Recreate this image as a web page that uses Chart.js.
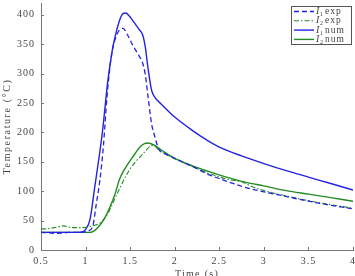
<!DOCTYPE html>
<html>
<head>
<meta charset="utf-8">
<script src="https://cdn.jsdelivr.net/npm/chart.js@4/dist/chart.umd.min.js"></script>
<style>
  html, body { margin: 0; padding: 0; overflow: hidden; background: #fff; }
  body { width: 355px; height: 276px; position: relative; }
  #wrap { position: absolute; left: 0; top: -9px; width: 361px; height: 295px; }
</style>
</head>
<body>
<div id="wrap"><canvas id="tempChart"></canvas></div>
<script>
const timeI1Exp = [0.5, 0.6, 0.65, 0.75, 0.85, 0.95, 1.02, 1.08, 1.12, 1.16, 1.2, 1.24, 1.29, 1.35, 1.42, 1.47, 1.53, 1.6, 1.64, 1.67, 1.7, 1.74, 1.78, 1.82, 1.9, 2.0, 2.2, 2.37, 2.6, 2.8, 3.0, 3.25, 3.5, 3.75, 4.0];
const tempI1Exp = [30, 29, 28, 29, 30, 30, 32, 40, 78, 118, 177, 260, 330, 366, 377, 366, 348, 330, 318, 298, 262, 215, 191, 172, 163, 156, 142, 129, 116, 106, 99, 91, 83, 76, 70];

const timeI2Exp = [0.5, 0.55, 0.65, 0.75, 0.85, 0.95, 1.05, 1.12, 1.18, 1.25, 1.3, 1.38, 1.45, 1.5, 1.56, 1.61, 1.67, 1.72, 1.76, 1.82, 1.9, 2.0, 2.2, 2.37, 2.6, 2.75, 2.85, 3.0, 3.25, 3.5, 3.75, 4.0];
const tempI2Exp = [36, 36, 38, 41, 38, 38, 40, 43, 48, 62, 78, 104, 125, 138, 150, 158, 168, 176, 178, 170, 163, 155, 142, 131, 120, 116, 109, 101, 92, 84, 77, 71];

const timeI1Num = [0.5, 0.7, 0.9, 0.97, 1.0, 1.05, 1.1, 1.16, 1.19, 1.25, 1.3, 1.33, 1.38, 1.42, 1.45, 1.49, 1.53, 1.6, 1.64, 1.67, 1.7, 1.74, 1.78, 1.85, 2.0, 2.2, 2.37, 2.5, 2.75, 3.0, 3.25, 3.5, 3.75, 4.0];
const tempI1Num = [30, 30, 30, 31, 35, 52, 104, 167, 202, 288, 340, 362, 390, 402, 403, 398, 390, 375, 366, 345, 310, 272, 259, 248, 226, 203, 186, 175, 160, 147, 135, 124, 113, 102];

const timeI2Num = [0.5, 0.8, 1.0, 1.05, 1.1, 1.16, 1.22, 1.27, 1.33, 1.38, 1.44, 1.5, 1.56, 1.61, 1.66, 1.7, 1.76, 1.83, 1.9, 2.0, 2.2, 2.37, 2.6, 2.8, 3.0, 3.25, 3.5, 3.75, 4.0];
const tempI2Num = [30, 30, 30, 30, 33, 42, 56, 72, 95, 120, 138, 152, 165, 175, 181, 182, 179, 172, 165, 156, 143, 134, 123, 115, 109, 101, 95, 89, 83];

const xTicks = [0.5, 1, 1.5, 2, 2.5, 3, 3.5, 4];
const yTicks = [0, 50, 100, 150, 200, 250, 300, 350, 400];

const blue = 'rgb(35, 35, 225)';
const green = 'rgb(35, 140, 35)';
const serif = "'Liberation Serif', serif";
const textColor = '#444';
const axisColor = '#777';

function pts(xs, ys) {
    return xs.map((x, i) => ({x: x, y: ys[i]}));
}

const seriesList = [
    {label: 'exp', idx: '1', color: blue, dash: [5, 3], width: 1.3, data: pts(timeI1Exp, tempI1Exp)},
    {label: 'exp', idx: '2', color: green, dash: [5, 2, 1.5, 2], width: 1.1, data: pts(timeI2Exp, tempI2Exp)},
    {label: 'num', idx: '1', color: blue, dash: [], width: 1.4, data: pts(timeI1Num, tempI1Num)},
    {label: 'num', idx: '2', color: green, dash: [], width: 1.4, data: pts(timeI2Num, tempI2Num)}
];

// wide letter spacing like the LaTeX figure, set before layout so widths are measured with it
const spacing = {
    id: 'spacing',
    beforeLayout(chart) { chart.ctx.letterSpacing = '1px'; },
    beforeDraw(chart) { chart.ctx.letterSpacing = '1px'; }
};

// inward tick marks and the two axis titles
const axisExtras = {
    id: 'axisExtras',
    afterDraw(chart) {
        const ctx = chart.ctx;
        const area = chart.chartArea;
        const xs = chart.scales.x, ys = chart.scales.y;
        ctx.save();
        ctx.strokeStyle = axisColor;
        ctx.lineWidth = 1;
        ctx.beginPath();
        xTicks.forEach(v => {
            const px = Math.round(xs.getPixelForValue(v)) + 0.5;
            ctx.moveTo(px, area.bottom);
            ctx.lineTo(px, area.bottom - 3);
        });
        yTicks.forEach(v => {
            const py = Math.round(ys.getPixelForValue(v)) + 0.5;
            ctx.moveTo(area.left, py);
            ctx.lineTo(area.left + 3, py);
        });
        ctx.stroke();

        ctx.fillStyle = textColor;
        ctx.font = "10px " + serif;
        ctx.letterSpacing = '1.3px';
        ctx.textAlign = 'center';
        ctx.textBaseline = 'middle';
        ctx.fillText('Time (s)', (area.left + area.right) / 2, area.bottom + 24);
        ctx.translate(7, (area.top + area.bottom) / 2);
        ctx.rotate(-Math.PI / 2);
        ctx.letterSpacing = '1.6px';
        ctx.fillText('Temperature (°C)', 0, 0);
        ctx.restore();
    }
};

// legend in the upper right corner, drawn by hand so the line styles show
const cornerLegend = {
    id: 'cornerLegend',
    afterDraw(chart) {
        const ctx = chart.ctx;
        const bx = 291, by = 15, bw = 60, bh = 38;
        ctx.save();
        ctx.fillStyle = '#fff';
        ctx.fillRect(bx, by, bw, bh);
        ctx.strokeStyle = '#555';
        ctx.lineWidth = 1;
        ctx.strokeRect(bx + 0.5, by + 0.5, bw, bh);
        seriesList.forEach((s, i) => {
            const y = by + 5.5 + i * 9.3;
            ctx.beginPath();
            ctx.setLineDash(s.dash);
            ctx.strokeStyle = s.color;
            ctx.lineWidth = s.width;
            ctx.moveTo(bx + 3, y);
            ctx.lineTo(bx + 23, y);
            ctx.stroke();
            ctx.setLineDash([]);
            ctx.fillStyle = textColor;
            ctx.textBaseline = 'middle';
            ctx.letterSpacing = '0px';
            ctx.font = "italic 10px " + serif;
            ctx.fillText('I', bx + 25, y);
            ctx.font = "6px " + serif;
            ctx.fillText(s.idx, bx + 29, y + 3);
            ctx.letterSpacing = '1px';
            ctx.font = "9.5px " + serif;
            ctx.fillText(s.label, bx + 34, y);
        });
        ctx.restore();
    }
};

const config = {
    type: 'line',
    data: {
        datasets: seriesList.map(s => ({
            label: s.idx + ' ' + s.label,
            data: s.data,
            borderColor: s.color,
            backgroundColor: s.color,
            borderWidth: s.width,
            borderDash: s.dash,
            pointRadius: 0,
            cubicInterpolationMode: 'monotone',
            fill: false
        }))
    },
    options: {
        responsive: true,
        maintainAspectRatio: false,
        animation: false,
        layout: {padding: {top: 0, right: 0, left: 11, bottom: 14}},
        plugins: {
            legend: {display: false},
            tooltip: {enabled: false}
        },
        scales: {
            x: {
                type: 'linear',
                min: 0.5,
                max: 4,
                afterBuildTicks: (scale) => { scale.ticks = xTicks.map(v => ({value: v})); },
                grid: {drawOnChartArea: false, drawTicks: false},
                border: {color: axisColor},
                ticks: {color: textColor, font: {family: serif, size: 10}, maxRotation: 0, padding: 5,
                        callback: (v) => String(v)}
            },
            y: {
                min: 0,
                max: 420,
                afterBuildTicks: (scale) => { scale.ticks = yTicks.map(v => ({value: v})); },
                grid: {drawOnChartArea: false, drawTicks: false},
                border: {color: axisColor},
                ticks: {color: textColor, font: {family: serif, size: 10}, padding: 6,
                        callback: (v) => String(v)}
            }
        }
    },
    plugins: [spacing, axisExtras, cornerLegend]
};

const tempChart = new Chart(document.getElementById('tempChart'), config);
</script>
</body>
</html>
